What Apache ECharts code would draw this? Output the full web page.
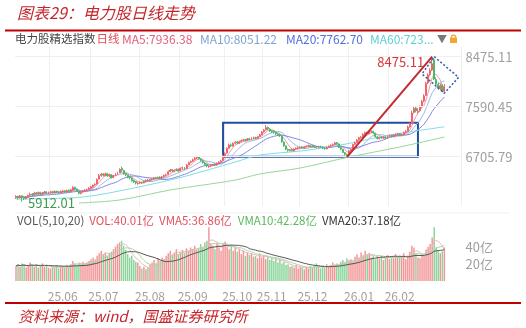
<!DOCTYPE html>
<html><head><meta charset="utf-8">
<script src="https://cdn.jsdelivr.net/npm/echarts@6/dist/echarts.min.js"></script>
<style>html,body{margin:0;padding:0;background:#fff}#c{width:526px;height:328px}</style>
</head><body><div id="c"></div>
<script>
// ---- categories (trading days per month, 2025.04 - 2026.03) ----
const monthNames = ['25.04','25.05','25.06','25.07','25.08','25.09','25.10','25.11','25.12','26.01','26.02','26.03'];
const monthDays  = [4,19,20,23,21,22,17,20,23,20,14,9];
const shownMonths = ['25.06','25.07','25.08','25.09','25.10','25.11','25.12','26.01','26.02'];
const padDays = 8;

// ---- daily candles: [open, close, low, high] ----
const ohlc = [
[5985,6000,5960,6025],[6005,5985,5950,6015],[5980,6010,5965,6030],[6015,5990,5912.01,6020],[5995,5970,5940,6005],
[5965,5995,5950,6010],[5990,6020,5980,6035],[6025,6040,6005,6070],[6045,6030,6010,6060],[6030,6060,6020,6085],
[6065,6050,6030,6080],[6045,6070,6035,6090],[6075,6045,6030,6085],[6040,6065,6025,6080],[6060,6080,6050,6100],
[6085,6060,6045,6095],[6055,6075,6040,6090],[6070,6085,6055,6105],[6090,6070,6055,6100],[6065,6090,6060,6110],
[6095,6080,6060,6105],[6080,6075,6050,6095],[6070,6090,6060,6110],[6085,6100,6070,6120],[6105,6085,6070,6115],
[6080,6105,6070,6125],[6110,6095,6080,6125],[6090,6120,6080,6140],[6115,6160,6110,6185],[6165,6140,6120,6175],
[6135,6110,6090,6145],[6100,6060,6040,6110],[6055,6075,6040,6090],[6080,6100,6070,6115],[6095,6115,6085,6130],
[6115,6120,6100,6140],[6125,6150,6115,6165],[6145,6175,6140,6190],[6170,6200,6160,6215],[6205,6215,6185,6235],
[6220,6300,6215,6320],[6310,6370,6300,6400],[6375,6395,6350,6420],[6400,6380,6355,6415],[6375,6400,6360,6425],
[6405,6370,6350,6420],[6365,6390,6345,6405],[6385,6335,6320,6395],[6340,6370,6325,6385],[6375,6400,6360,6415],
[6405,6420,6390,6440],[6425,6480,6420,6500],[6500,6470,6440,6530],[6460,6400,6390,6475],[6405,6385,6360,6420],
[6380,6340,6325,6390],[6345,6330,6305,6360],[6325,6280,6265,6340],[6285,6260,6240,6300],[6265,6240,6215,6275],
[6230,6235,6210,6255],[6240,6250,6225,6270],[6255,6245,6225,6265],[6245,6270,6235,6285],[6275,6290,6260,6305],
[6295,6285,6265,6310],[6280,6300,6270,6315],[6305,6310,6290,6330],[6315,6330,6300,6345],[6335,6320,6305,6350],
[6320,6340,6310,6355],[6345,6325,6310,6360],[6330,6350,6315,6365],[6355,6375,6345,6390],[6380,6385,6360,6405],
[6395,6440,6390,6460],[6445,6470,6430,6490],[6475,6455,6435,6485],[6450,6465,6430,6480],[6470,6480,6450,6500],
[6485,6450,6435,6495],[6455,6500,6450,6515],[6505,6510,6485,6530],[6515,6495,6475,6525],[6500,6560,6495,6575],
[6565,6600,6555,6620],[6605,6620,6590,6640],[6625,6650,6610,6670],[6655,6680,6640,6700],[6685,6700,6665,6720],
[6705,6670,6655,6715],[6665,6640,6620,6680],[6635,6600,6585,6650],[6595,6570,6550,6610],[6575,6540,6520,6585],
[6530,6535,6510,6555],[6540,6550,6525,6565],[6555,6565,6540,6580],[6570,6560,6540,6585],[6560,6590,6550,6605],
[6595,6610,6580,6625],[6615,6630,6600,6650],[6640,6720,6635,6740],[6725,6760,6710,6785],[6770,6850,6760,6870],
[6855,6910,6840,6935],[6915,6900,6875,6940],[6895,6940,6885,6960],[6945,6960,6925,6980],[6965,6950,6930,6985],
[6945,6970,6935,6990],[6975,6990,6960,7010],[6995,7000,6975,7020],[7005,6995,6975,7025],[6990,7020,6985,7035],
[7025,7010,6990,7040],[7005,7030,7000,7050],[7035,7040,7015,7060],[7045,7035,7010,7060],[7030,7060,7025,7075],
[7065,7090,7055,7110],[7095,7140,7085,7160],[7145,7175,7130,7195],[7180,7220,7170,7267],[7225,7200,7175,7240],
[7195,7160,7145,7210],[7165,7150,7125,7180],[7155,7140,7115,7170],[7135,7110,7090,7150],[7105,7090,7070,7120],
[7095,7080,7055,7110],[7070,6970,6955,7080],[6965,6900,6880,6975],[6895,6840,6820,6905],[6835,6820,6795,6850],
[6815,6830,6800,6845],[6835,6815,6795,6850],[6810,6840,6800,6855],[6845,6855,6830,6870],[6855,6860,6840,6880],
[6865,6875,6850,6890],[6880,6865,6845,6890],[6860,6880,6850,6895],[6885,6890,6870,6905],[6895,6900,6880,6920],
[6905,6885,6870,6915],[6880,6895,6870,6910],[6900,6880,6865,6910],[6875,6870,6850,6890],[6865,6885,6855,6900],
[6890,6875,6860,6900],[6870,6860,6840,6885],[6855,6850,6830,6870],[6845,6870,6835,6885],[6875,6890,6865,6905],
[6895,6905,6880,6925],[6910,6920,6895,6940],[6925,6950,6915,6970],[6955,6935,6920,6965],[6930,6870,6860,6940],
[6865,6840,6820,6880],[6835,6780,6770,6845],[6775,6750,6730,6790],[6745,6730,6700,6760],[6735,6810,6725,6825],
[6815,6830,6800,6850],[6835,6920,6830,6935],[6925,6950,6910,6970],[6955,7000,6945,7020],[7005,7040,6990,7060],
[7045,7050,7025,7070],[7055,7100,7045,7120],[7105,7130,7090,7150],[7135,7120,7100,7150],[7115,7140,7105,7160],
[7145,7150,7125,7170],[7155,7125,7110,7165],[7120,7060,7045,7130],[7055,7030,7010,7070],[7025,7045,7015,7060],
[7050,7040,7020,7065],[7035,7050,7025,7070],[7055,7035,7015,7065],[7030,7070,7025,7085],[7075,7080,7060,7100],
[7085,7065,7045,7095],[7060,7090,7055,7105],[7095,7100,7080,7120],[7105,7110,7090,7130],[7115,7090,7070,7125],
[7085,7095,7065,7110],[7100,7130,7090,7150],[7135,7150,7125,7180],[7155,7230,7150,7255],[7235,7280,7220,7310],
[7290,7480,7285,7520],[7490,7560,7470,7600],[7565,7520,7490,7590],[7500,7510,7470,7560],[7520,7580,7505,7610],
[7590,7680,7575,7710],[7690,7780,7670,7810],[7790,8000,7780,8030],[8010,8150,7990,8180],[8160,8230,8130,8270],
[8240,8350,8220,8475.11],[8420,8080,8060,8450],[8070,7990,7960,8110],[7985,7920,7890,8020],[7915,7960,7880,8000],
[7970,7870,7840,7990],[7860,7940,7835,7990]
];

// ---- daily volume (亿) ----
const volume = [
18,20,17,21,19,16,18,22,19,17,20,16,18,21,17,19,16,
15,17,16,19,15,18,17,16,19,18,20,24,21,18,22,19,23,20,22,24,
26,28,25,30,33, 36,32,34,30,33, 35,38,41,44,46,48,42,37,
32,28,30,25,23,22, 18,15,17,14,16,19, 22,25,21,27,24,28,26,30,
33,36,31,34,38,32,35,37,33,39,36,40,38,42,37,39,
44,40,46,48,64,45, 42,38,45,40,36,44,47,41,38,43,36,40,
35,38,32,36,30,34,31,33,29, 30,27,33,28,31,26,29,25,27,
24,28,22,26,21,23,19,20,17,18,16,19,15,17,
16,14,17,15,18,16,19,21,17,15,18,16,20,17,19,22,18,21,19,23,
25,22,27,24,26,23, 29,32,27,34,30,36,31,33,28,30,26,29,
27,30,25,28,31,26,29,27,32,28,30,29, 33,
26,30,35,42,40,33,28,27,30,29.8, 37.5,41,44,52,64, 40,36,33,35.3,40.01
];

// ---- longer moving averages (index, value) ----
const ma60Idx = [0,33,58,82,108,120,140,160,184,211];
const ma60Val = [5957,5993,6152,6347,6612,6735,6806,6913,7088,7235];
const ma120Idx = [31,51,76,108,120,140,164,189,211];
const ma120Val = [5887,5940,6117,6293,6400,6506,6700,6877,7054];

// ---- axis ticks ----
const priceTicks = [6705.79, 7590.45, 8475.11];
const volTicks = [20, 40];

// ---- legend texts ----
const legendMain = ['MA5:7936.38','MA10:8051.22','MA20:7762.70','MA60:723...'];
const legendVol = ['VOL(5,10,20)','VOL:40.01亿','VMA5:36.86亿','VMA10:42.28亿','VMA20:37.18亿'];

// ---- annotations (data coordinates) ----
const peakPoint = [205, 8475.11];
const lowPoint = [3, 5912.01];
const arrowFrom = [163, 6700];
const boxIdx = [102, 198];
const boxVal = [6705.79, 7307];
const diamondIdx = [206, 218, 211, 200, 206];
const diamondVal = [8475, 8110, 7827, 8169, 8475];
const vGridIdx = [17, 37, 61, 81, 103, 122, 140, 164, 184];

// ---------------------------------------------------------------
const cats = [];
monthNames.forEach((m, k) => { for (let d = 0; d < monthDays[k]; d++) cats.push(m + '-' + (d + 1)); });
for (let p = 0; p < padDays; p++) cats.push('pad' + p);
const firstIdx = {};
cats.forEach((c, i) => { const m = c.split('-')[0]; if (!(m in firstIdx)) firstIdx[m] = i; });
const labelIdx = new Set(shownMonths.map(m => firstIdx[m]));

const closes = ohlc.map(r => r[1]);
function ma(arr, n) {
  return arr.map((_, i) => {
    const s = Math.max(0, i - n + 1); let sum = 0;
    for (let k = s; k <= i; k++) sum += arr[k];
    return +(sum / (i - s + 1)).toFixed(2);
  });
}
const UP = '#f06468', DOWN = '#4cb868';
const VUP = '#f29596', VDOWN = '#8ad49a';
const FONT = '"Noto Sans CJK SC","Noto Sans",sans-serif';

const chart = echarts.init(document.getElementById('c'), null, {renderer: 'canvas'});
const gridL = 15, gridR = 64.4;

const lineS = (name, data, color, w, xi, yi, extra) => Object.assign({
  name, type: 'line', data, xAxisIndex: xi, yAxisIndex: yi, symbol: 'none', silent: true,
  lineStyle: {color, width: w}, z: 3
}, extra || {});

const rowText = (y, parts, size) => ({
  type: 'text', x: parts.x, y,
  style: {
    text: parts.items.map((t, k) => '{s' + k + '|' + t.text + '}').join(''),
    font: size + 'px ' + FONT, verticalAlign: 'middle',
    rich: Object.fromEntries(parts.items.map((t, k) => ['s' + k, {fill: t.color, fontSize: t.size || size, fontFamily: FONT, padding: [0, t.gap || 0, 0, 0]}]))
  }
});

chart.setOption({
  animation: false,
  backgroundColor: '#fff',
  grid: [
    {left: gridL, right: gridR, top: 47, height: 159},
    {left: gridL, right: gridR, top: 224, height: 57}
  ],
  xAxis: [
    {type: 'category', gridIndex: 0, data: cats, boundaryGap: true,
     axisLine: {show: false}, axisTick: {show: false}, axisLabel: {show: false},
     splitLine: {show: true, interval: (i) => vGridIdx.includes(i), lineStyle: {color: '#f0f0f0', width: 1}}},
    {type: 'category', gridIndex: 1, data: cats, boundaryGap: true,
     axisLine: {show: false}, axisTick: {show: false},
     axisLabel: {show: true, interval: (i) => labelIdx.has(i), formatter: (v) => v.split('-')[0],
                 color: '#a0a0a0', fontSize: 12, fontFamily: FONT, margin: 9},
     splitLine: {show: false}}
  ],
  yAxis: [
    {type: 'value', gridIndex: 0, position: 'right', min: 5834, max: 8646, scale: true,
     axisLine: {show: false}, axisTick: {show: false},
     axisLabel: {customValues: priceTicks, formatter: (v) => v.toFixed(2), color: '#a0a0a0', fontSize: 13, fontFamily: FONT, margin: 4},
     splitLine: {show: false}},
    {type: 'value', gridIndex: 1, position: 'right', min: 0, max: 68,
     axisLine: {show: false}, axisTick: {show: false},
     axisLabel: {customValues: volTicks, formatter: (v) => v + '亿', color: '#a0a0a0', fontSize: 13, fontFamily: FONT, margin: 4},
     splitLine: {show: false}}
  ],
  series: [
    {type: 'line', data: [], xAxisIndex: 0, yAxisIndex: 0, silent: true,
     markLine: {silent: true, symbol: 'none', label: {show: false},
       lineStyle: {color: '#efefef', width: 1, type: 'solid'},
       data: priceTicks.map(v => ({yAxis: v}))}},
    {name: 'K', type: 'candlestick', xAxisIndex: 0, yAxisIndex: 0, data: ohlc, barWidth: '72%',
     itemStyle: {color: UP, color0: DOWN, borderColor: UP, borderColor0: DOWN, borderWidth: 1}, z: 4,
     markArea: {silent: true, itemStyle: {color: 'rgba(0,0,0,0)', borderColor: '#1f4f9e', borderWidth: 2},
       data: [[{coord: [boxIdx[0], boxVal[1]]}, {coord: [boxIdx[1], boxVal[0]]}]]},
     markLine: {silent: true, symbol: ['none', 'arrow'], symbolSize: [0, 11], label: {show: false},
       lineStyle: {color: '#c42a2e', width: 2, type: 'solid'},
       data: [[{coord: arrowFrom}, {coord: peakPoint}]]},
     markPoint: {silent: true, symbol: 'circle', symbolSize: 0,
       data: [
         {coord: peakPoint, label: {show: true, position: 'left', distance: 8, offset: [0, 5], formatter: '8475.11',
           color: '#d7373d', fontSize: 13, fontFamily: FONT}},
         {coord: lowPoint, label: {show: true, position: 'right', distance: 6, offset: [0, 1], formatter: '5912.01',
           color: '#3f9a4f', fontSize: 13, fontFamily: FONT}}
       ]}},
    lineS('MA5', ma(closes, 5), '#f19ab0', 1, 0, 0),
    lineS('MA10', ma(closes, 10), '#9cb9e4', 1, 0, 0),
    lineS('MA20', ma(closes, 20), '#7f86e6', 1, 0, 0),
    lineS('MA60', ma60Idx.map((x, k) => [x, ma60Val[k]]), '#86dbe3', 1, 0, 0, {smooth: 0.3}),
    lineS('MA120', ma120Idx.map((x, k) => [x, ma120Val[k]]), '#98d69a', 1, 0, 0, {smooth: 0.3}),
    lineS('box', diamondIdx.map((x, k) => [x, diamondVal[k]]), '#3a64b0', 1.6, 0, 0, {lineStyle: {color: '#3a64b0', width: 1.6, type: [2, 2]}, z: 6}),
    {name: 'VOL', type: 'bar', xAxisIndex: 1, yAxisIndex: 1, barWidth: '72%',
     data: volume.map((v, i) => ({value: v, itemStyle: {color: ohlc[i][1] >= ohlc[i][0] ? VUP : VDOWN}}))},
    lineS('VMA5', ma(volume, 5), '#f4b3bf', 1, 1, 1),
    lineS('VMA10', ma(volume, 10), '#a4dca6', 1, 1, 1),
    lineS('VMA20', ma(volume, 20), '#555555', 1, 1, 1)
  ],
  graphic: [
    {type: 'text', left: 17, top: 5, style: {text: '图表29：电力股日线走势', fill: '#c4262c', font: 'italic 16px ' + FONT}},
    {type: 'line', shape: {x1: 5, y1: 30.5, x2: 521, y2: 30.5}, style: {stroke: '#c00000', lineWidth: 2}},
    {type: 'text', x: 15, y: 39, style: {text: '电力股精选指数', fill: '#444', font: '11.5px ' + FONT, verticalAlign: 'middle'}},
    {type: 'text', x: 96.5, y: 39, style: {text: '日线', fill: '#e34b52', font: '11.5px ' + FONT, verticalAlign: 'middle'}},
    {type: 'text', x: 122, y: 39, style: {text: legendMain[0], fill: '#e0607a', font: '12px ' + FONT, verticalAlign: 'middle'}},
    {type: 'text', x: 200, y: 39, style: {text: legendMain[1], fill: '#7ea6d4', font: '12px ' + FONT, verticalAlign: 'middle'}},
    {type: 'text', x: 286, y: 39, style: {text: legendMain[2], fill: '#4f6fe0', font: '12px ' + FONT, verticalAlign: 'middle'}},
    {type: 'text', x: 370, y: 39, style: {text: legendMain[3], fill: '#5ccfd8', font: '12px ' + FONT, verticalAlign: 'middle'}},
    {type: 'text', x: 437, y: 39, style: {text: '▼', fill: '#777', font: '10px ' + FONT, verticalAlign: 'middle'}},
    {type: 'rect', shape: {x: 450, y: 37.5, width: 7, height: 5.5}, style: {fill: '#f2a72c'}},
    {type: 'arc', shape: {cx: 453.5, cy: 37.5, r: 2.3, startAngle: Math.PI, endAngle: 2 * Math.PI}, style: {stroke: '#f2a72c', lineWidth: 1.2, fill: null}},
    {type: 'line', shape: {x1: 15, y1: 213, x2: 510, y2: 213}, style: {stroke: '#f0f0f0', lineWidth: 1}},
    rowText(221, {x: 17, items: [
      {text: legendVol[0], color: '#555', gap: 5},
      {text: legendVol[1], color: '#e0505e', gap: 5},
      {text: legendVol[2], color: '#e0505e', gap: 6},
      {text: legendVol[3], color: '#5cb85c', gap: 5},
      {text: legendVol[4], color: '#333', gap: 0}
    ]}, 11.5),
    {type: 'line', shape: {x1: 5, y1: 303, x2: 521, y2: 303}, style: {stroke: '#c00000', lineWidth: 2}},
    {type: 'text', x: 18, y: 316, style: {text: '资料来源：wind，国盛证券研究所', fill: '#c4262c', font: 'italic 15px ' + FONT, verticalAlign: 'middle'}}
  ]
});
</script></body></html>
